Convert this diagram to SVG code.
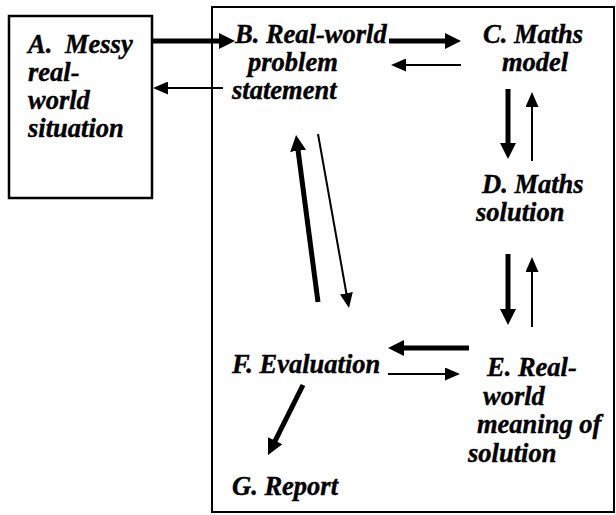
<svg xmlns="http://www.w3.org/2000/svg" width="616" height="515" viewBox="0 0 616 515">
<style>
text{font-family:'Liberation Serif','DejaVu Serif',serif;font-weight:700;font-style:italic;font-size:26.5px;fill:#000;stroke:#000;stroke-width:0.4}
.box{fill:none;stroke:#000}
.thick{stroke:#000;stroke-width:5;fill:none;marker-end:url(#hk)}
.thin{stroke:#000;stroke-width:2;fill:none;marker-end:url(#hn)}
</style>
<defs>
<marker id="hk" markerUnits="userSpaceOnUse" markerWidth="16" markerHeight="16" refX="4" refY="8" orient="auto"><path d="M0,0 L16,8 L0,16 z" fill="#000"/></marker>
<marker id="hn" markerUnits="userSpaceOnUse" markerWidth="15" markerHeight="13" refX="3" refY="6.5" orient="auto"><path d="M0,0 L15,6.5 L0,13 z" fill="#000"/></marker>
</defs>
<rect width="616" height="515" fill="#fff"/>
<rect class="box" x="212" y="7" width="402" height="505" stroke-width="2"/>
<g id="A">
<rect class="box" x="9" y="16" width="143" height="182" stroke-width="2.5"/>
<text x="28" y="53">A. <tspan dx="6">Messy</tspan></text>
<text x="28" y="81">real-</text>
<text x="28" y="109">world</text>
<text x="28" y="137">situation</text>
</g>
<g id="B">
<text x="235" y="43">B. Real-world</text>
<text x="248" y="71">problem</text>
<text x="232" y="99">statement</text>
</g>
<g id="C">
<text x="483" y="43">C. Maths</text>
<text x="502" y="71">model</text>
</g>
<g id="D">
<text x="482" y="193">D. Maths</text>
<text x="476" y="221">solution</text>
</g>
<g id="E">
<text x="487" y="376">E. Real-</text>
<text x="483" y="405">world</text>
<text x="477" y="433">meaning of</text>
<text x="468" y="462">solution</text>
</g>
<g id="F">
<text x="232" y="373">F. Evaluation</text>
</g>
<g id="G">
<text x="232" y="495">G. Report</text>
</g>
<g id="connectors">
<line class="thick" x1="152" y1="41" x2="223" y2="41"/>
<line class="thin" x1="223" y1="88" x2="165" y2="88"/>
<line class="thick" x1="389" y1="41" x2="449" y2="41"/>
<line class="thin" x1="461" y1="65" x2="403" y2="65"/>
<line class="thick" x1="508" y1="89" x2="508" y2="147"/>
<line class="thin" x1="532" y1="161" x2="532" y2="104"/>
<line class="thick" x1="508" y1="254" x2="508" y2="313"/>
<line class="thin" x1="532" y1="327" x2="532" y2="269"/>
<line class="thick" x1="469" y1="348" x2="400" y2="348"/>
<line class="thin" x1="388" y1="374" x2="448" y2="374"/>
<line class="thick" x1="303" y1="385" x2="273.4" y2="444.3"/>
<line class="thick" x1="318" y1="302" x2="297.6" y2="146.9"/>
<line class="thin" x1="318" y1="134" x2="346.9" y2="296.2"/>
</g>
</svg>
